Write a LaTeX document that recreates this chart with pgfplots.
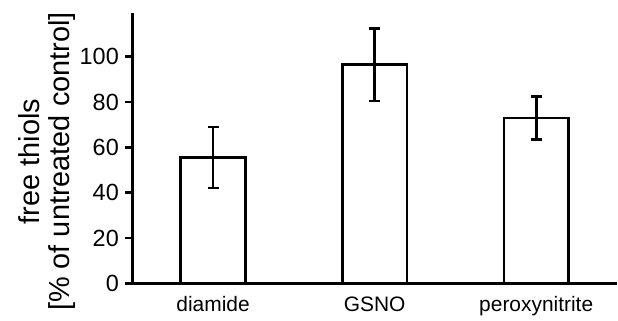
\documentclass[border=0pt]{standalone}
\usepackage{pgfplots}
\pgfplotsset{compat=1.18}
\usepackage{fontspec}
\setmainfont{Liberation Sans}
\begin{document}
\begin{tikzpicture}
\path[use as bounding box] (0,0) rectangle (618bp,321bp);
\begin{axis}[
  at={(132.3bp,37.7bp)}, anchor=south west,
  scale only axis, width=484.7bp, height=270.3bp,
  xmin=-0.5, xmax=2.5, ymin=0, ymax=119.3,
  axis x line*=bottom, axis y line*=left,
  axis line style={line width=2.6bp, -},
  xtick={0,1,2}, xticklabels={diamide,GSNO,peroxynitrite},
  extra x ticks={0.5,1.5,2.5}, extra x tick labels={},
  extra x tick style={major tick length=7bp, tick style={line width=2.6bp, black}, tick align=outside},
  ytick={0,20,40,60,80,100},
  major tick length=7bp,
  tick align=outside,
  x tick style={draw=none},
  y tick style={line width=2.6bp, black},
  yticklabel style={font=\fontsize{23.5}{27}\selectfont, xshift=-3bp},
  xticklabel style={font=\fontsize{21}{25}\selectfont, yshift=-3bp},
  /pgf/number format/assume math mode=true,
  ylabel={free thiols\\{[}\% of untreated control{]}},
  ylabel style={at={(axis description cs:-0.1754,0.4506)}, anchor=center, align=center, font=\fontsize{29}{30.5}\selectfont},
  clip=false,
]
\addplot[ybar, bar width=0.4, fill=white, draw=black, line width=2.6bp,
  error bars/.cd, y dir=both, y explicit,
  error bar style={line width=2.6bp, black}, error mark options={line width=2.6bp, black, mark size=5.5bp, rotate=90}]
  coordinates {(0,55.5) +- (0,13.5) (1,96.5) +- (0,16) (2,73) +- (0,9.5)};
\end{axis}
\end{tikzpicture}
\end{document}
